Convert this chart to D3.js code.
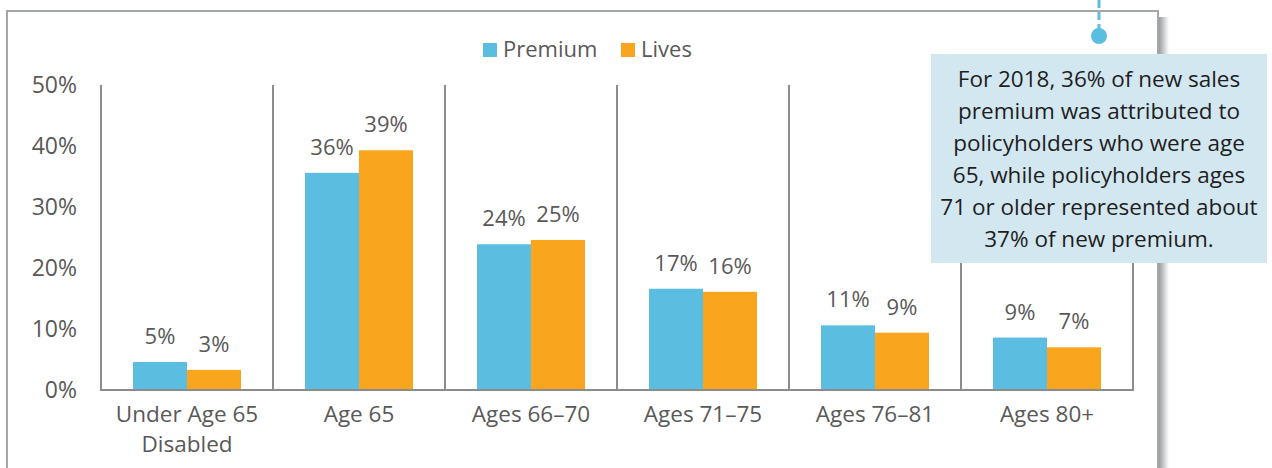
<!DOCTYPE html>
<html>
<head>
<meta charset="utf-8">
<script src="https://cdn.jsdelivr.net/npm/d3@7"></script>
<style>
  html, body { margin: 0; padding: 0; background: #ffffff; }
  svg { display: block; font-family: "Open Sans", sans-serif; }
</style>
</head>
<body>
<svg id="chart" width="1272" height="468"></svg>
<script>
// Chart data
var categories = ["Under Age 65|Disabled", "Age 65", "Ages 66\u201370", "Ages 71\u201375", "Ages 76\u201381", "Ages 80+"];
var series_names = ["Premium", "Lives"];
var premium_values = [4.6, 35.6, 23.9, 16.6, 10.6, 8.6];
var lives_values = [3.3, 39.3, 24.6, 16.1, 9.4, 7.0];
var y_ticks = [0, 10, 20, 30, 40, 50];
var callout_lines = [
	"For 2018, 36% of new sales",
	"premium was attributed to",
	"policyholders who were age",
	"65, while policyholders ages",
	"71 or older represented about",
	"37% of new premium."
];

var COLORS = {"Premium": "#5bbee0", "Lives": "#f9a61e"};
var TEXT_GRAY = "#595959";
var AXIS_GRAY = "#8c8c8c";

var svg = d3.select("#chart");

// Frame with drop shadow on the right
var defs = svg.append("defs");
var grad = defs.append("linearGradient").attr("id", "shadow_grad")
	.attr("x1", "0%").attr("x2", "100%").attr("y1", "0%").attr("y2", "0%");
grad.append("stop").attr("offset", "0%").attr("stop-color", "#9a9c9e");
grad.append("stop").attr("offset", "100%").attr("stop-color", "#ffffff");

svg.append("rect")
	.attr("x", 1159).attr("y", 17).attr("width", 10).attr("height", 460)
	.attr("fill", "url(#shadow_grad)");
svg.append("path")
	.attr("d", "M7,470 V11 H1158 V470")
	.attr("fill", "none")
	.attr("stroke", "#a3a7a9")
	.attr("stroke-width", 2);

// Scales
var x0 = d3.scaleBand().domain(categories).range([101, 1133]).padding(0);
var x1 = d3.scaleBand().domain(series_names).range([32, 140]).padding(0);
var y = d3.scaleLinear().domain([0, 50]).range([390, 85]);

var data = categories.map(function(c, i) {
	return {"category": c, "values": [
		{"name": "Premium", "value": premium_values[i]},
		{"name": "Lives", "value": lives_values[i]}
	]};
});

// Category separators
var bounds = categories.map(function(c) { return x0(c); }).concat([x0.range()[1]]);
svg.append("g").selectAll("line").data(bounds).enter().append("line")
	.attr("x1", function(d) { return d; }).attr("x2", function(d) { return d; })
	.attr("y1", y(50)).attr("y2", y(0))
	.attr("stroke", AXIS_GRAY).attr("stroke-width", 2);

// Bars
var groups = svg.append("g").selectAll("g").data(data).enter().append("g")
	.attr("transform", function(d) { return "translate(" + x0(d.category) + ",0)"; });

groups.selectAll("rect").data(function(d) { return d.values; }).enter().append("rect")
	.attr("x", function(d) { return x1(d.name); })
	.attr("width", x1.bandwidth())
	.attr("y", function(d) { return y(d.value); })
	.attr("height", function(d) { return y(0) - y(d.value); })
	.attr("fill", function(d) { return COLORS[d.name]; });

groups.selectAll("text").data(function(d) { return d.values; }).enter().append("text")
	.attr("x", function(d) { return x1(d.name) + x1.bandwidth() / 2; })
	.attr("y", function(d) { return y(d.value) - 18; })
	.attr("text-anchor", "middle")
	.attr("font-size", 22)
	.attr("fill", TEXT_GRAY)
	.text(function(d) { return Math.round(d.value) + "%"; });

// Bottom axis line
svg.append("line")
	.attr("x1", 100).attr("x2", 1134).attr("y1", y(0)).attr("y2", y(0))
	.attr("stroke", AXIS_GRAY).attr("stroke-width", 2);

// Y tick labels
svg.append("g").selectAll("text").data(y_ticks).enter().append("text")
	.attr("x", 77)
	.attr("y", function(d) { return y(d); })
	.attr("dy", "0.36em")
	.attr("text-anchor", "end")
	.attr("font-size", 23)
	.attr("fill", TEXT_GRAY)
	.text(function(d) { return d + "%"; });

// Category labels
var cat_labels = svg.append("g").selectAll("text").data(categories).enter().append("text")
	.attr("x", function(d) { return x0(d) + x0.bandwidth() / 2; })
	.attr("y", y(0) + 32)
	.attr("text-anchor", "middle")
	.attr("font-size", 22.5)
	.attr("fill", TEXT_GRAY);
cat_labels.selectAll("tspan").data(function(d) { return d.split("|"); }).enter().append("tspan")
	.attr("x", function() { return d3.select(this.parentNode).attr("x"); })
	.attr("dy", function(d, i) { return i === 0 ? 0 : 30; })
	.text(function(d) { return d; });

// Legend
var legend_x = {"Premium": 483, "Lives": 621};
var legend = svg.append("g").selectAll("g").data(series_names).enter().append("g")
	.attr("transform", function(d) { return "translate(" + legend_x[d] + ",43)"; });
legend.append("rect").attr("width", 14).attr("height", 14)
	.attr("fill", function(d) { return COLORS[d]; });
legend.append("text").attr("x", 20).attr("y", 14)
	.attr("font-size", 22).attr("fill", TEXT_GRAY)
	.text(function(d) { return d; });

// Callout pointer
svg.append("line")
	.attr("x1", 1099).attr("x2", 1099).attr("y1", 0).attr("y2", 34)
	.attr("stroke", "#5bbee0").attr("stroke-width", 3)
	.attr("stroke-dasharray", "8,4");
svg.append("circle").attr("cx", 1099).attr("cy", 36).attr("r", 8).attr("fill", "#5bbee0");

// Callout box
svg.append("rect")
	.attr("x", 931).attr("y", 54).attr("width", 336).attr("height", 209)
	.attr("fill", "#d3e7f1");
svg.append("g").selectAll("text").data(callout_lines).enter().append("text")
	.attr("x", 1099)
	.attr("y", function(d, i) { return 87 + i * 32; })
	.attr("text-anchor", "middle")
	.attr("font-size", 22.5)
	.attr("fill", "#1e1e1e")
	.text(function(d) { return d; });
</script>
</body>
</html>
